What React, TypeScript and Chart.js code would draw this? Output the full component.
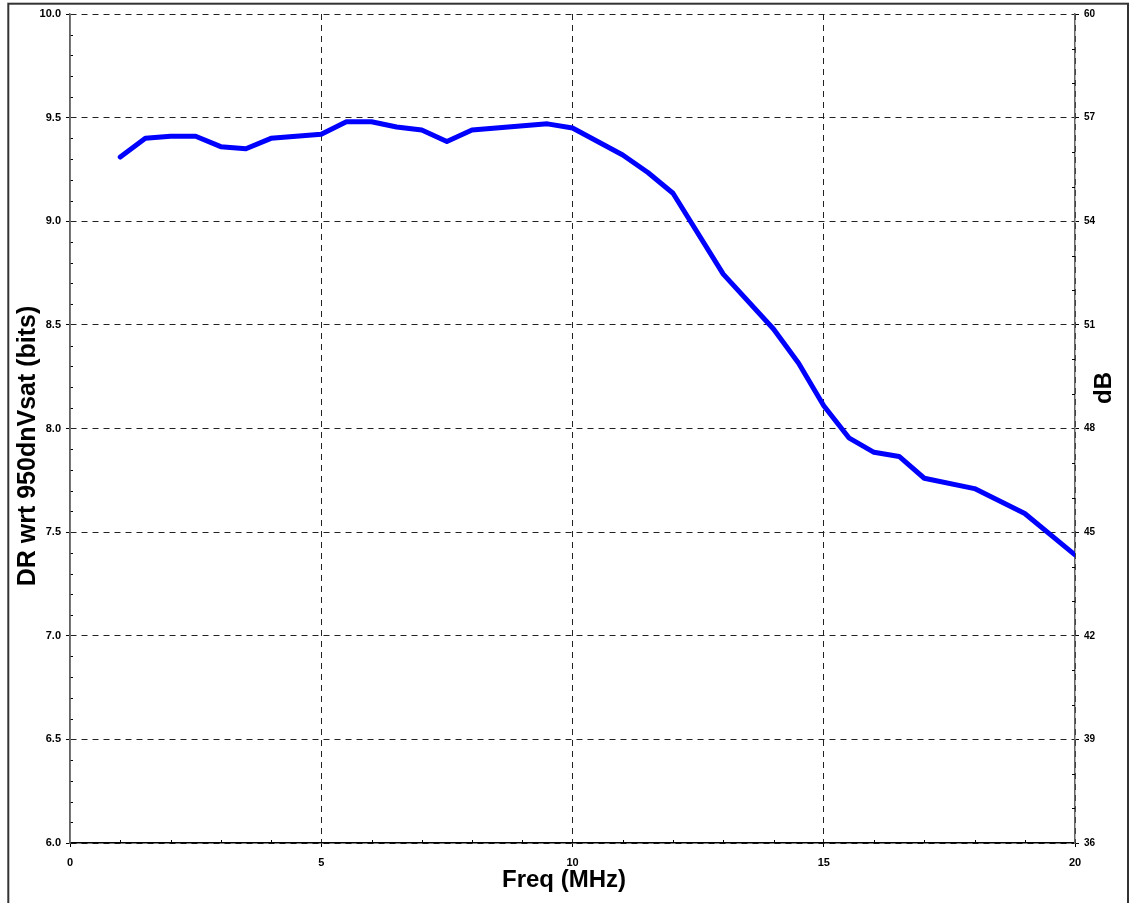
import React, { useEffect, useRef } from "react";
import { Chart, registerables } from "chart.js";

Chart.register(...registerables);

// Data
const freqMHz = [1, 1.5, 2, 2.5, 3, 3.5, 4, 5, 5.5, 6, 6.5, 7, 7.5, 8, 9.5, 10, 11, 11.5, 12, 13, 14, 14.5, 15, 15.5, 16, 16.5, 17, 18, 19, 20];
const drBits = [9.31, 9.4, 9.41, 9.41, 9.36, 9.35, 9.4, 9.42, 9.48, 9.48, 9.455, 9.44, 9.385, 9.44, 9.47, 9.45, 9.32, 9.235, 9.135, 8.745, 8.48, 8.315, 8.11, 7.955, 7.885, 7.865, 7.76, 7.71, 7.59, 7.39];

const xTitle = "Freq (MHz)";
const yTitle = "DR wrt 950dnVsat (bits)";
const y2Title = "dB";

const xRange = [0, 20];
const xStep = 5;
const xMinorStep = 1;
const yRange = [6, 10];
const yStep = 0.5;
const yMinorStep = 0.1;
const y2Range = [36, 60];
const y2Step = 3;
const y2MinorStep = 1;

const FONT = "'Liberation Sans', Arial, Helvetica, sans-serif";

const decorPlugin = {
  id: "decor",
  beforeDraw(chart: any) {
    const ctx = chart.ctx;
    ctx.save();
    ctx.strokeStyle = "#333";
    ctx.lineWidth = 2;
    ctx.strokeRect(8.3, 3.7, 1119.7, 1000);
    ctx.restore();
  },
  afterDraw(chart: any) {
    const ctx = chart.ctx;
    const { x, y, y2 } = chart.scales;
    const area = chart.chartArea;
    ctx.save();
    ctx.strokeStyle = "#000";
    ctx.lineWidth = 1;
    ctx.beginPath();
    // minor ticks, pointing into the plot
    for (let i = 0; i <= Math.round((xRange[1] - xRange[0]) / xMinorStep); i++) {
      const v = xRange[0] + i * xMinorStep;
      if (i % Math.round(xStep / xMinorStep) === 0) continue;
      const px = Math.round(x.getPixelForValue(v)) + 0.5;
      ctx.moveTo(px, area.bottom);
      ctx.lineTo(px, area.bottom - 3);
    }
    for (let i = 0; i <= Math.round((yRange[1] - yRange[0]) / yMinorStep); i++) {
      const v = yRange[0] + i * yMinorStep;
      if (i % Math.round(yStep / yMinorStep) === 0) continue;
      const py = Math.round(y.getPixelForValue(v)) + 0.5;
      ctx.moveTo(area.left, py);
      ctx.lineTo(area.left + 3, py);
    }
    for (let i = 0; i <= Math.round((y2Range[1] - y2Range[0]) / y2MinorStep); i++) {
      const v = y2Range[0] + i * y2MinorStep;
      if (i % Math.round(y2Step / y2MinorStep) === 0) continue;
      const py = Math.round(y2.getPixelForValue(v)) + 0.5;
      ctx.moveTo(area.right, py);
      ctx.lineTo(area.right - 3, py);
    }
    ctx.stroke();

    // left axis line drawn solid over everything
    ctx.strokeStyle = "#666";
    ctx.lineWidth = 1.5;
    ctx.beginPath();
    ctx.moveTo(area.left, area.top);
    ctx.lineTo(area.left, area.bottom);
    ctx.stroke();

    // axis titles
    ctx.fillStyle = "#000";
    ctx.textAlign = "center";
    ctx.textBaseline = "middle";
    ctx.font = `bold 24px ${FONT}`;
    ctx.fillText(xTitle, 564, 880);

    ctx.save();
    ctx.translate(28, 446);
    ctx.rotate(-Math.PI / 2);
    ctx.font = `bold 25px ${FONT}`;
    ctx.fillText(yTitle, 0, 0);
    ctx.restore();

    ctx.save();
    ctx.translate(1104, 388);
    ctx.rotate(-Math.PI / 2);
    ctx.font = `bold 24px ${FONT}`;
    ctx.fillText(y2Title, 0, 0);
    ctx.restore();

    ctx.restore();
  },
};

export default function App() {
  const ref = useRef<HTMLCanvasElement | null>(null);

  useEffect(() => {
    if (!ref.current) return;
    const tickFont = { family: FONT, size: 11, weight: "bold" as const };
    const chart = new Chart(ref.current, {
      type: "line",
      data: {
        datasets: [
          {
            data: freqMHz.map((f, i) => ({ x: f, y: drBits[i] })),
            borderColor: "#0000ff",
            borderWidth: 5,
            pointRadius: 0,
            tension: 0,
            fill: false,
            borderJoinStyle: "round",
            borderCapStyle: "round",
            yAxisID: "y",
          },
        ],
      },
      options: {
        responsive: false,
        animation: false,
        events: [],
        layout: { padding: { top: 14, left: 0, right: 0, bottom: 0 } },
        plugins: { legend: { display: false }, tooltip: { enabled: false } },
        scales: {
          x: {
            type: "linear",
            min: xRange[0],
            max: xRange[1],
            afterFit: (s: any) => {
              s.height = 60;
            },
            ticks: { stepSize: xStep, color: "#000", font: tickFont, padding: 9, maxRotation: 0, callback: (v: any) => String(v) },
            grid: {
              color: (c: any) => (c.tick && c.tick.value === xRange[0] ? "rgba(0,0,0,0)" : "#222"),
              tickColor: "#000",
              tickLength: 4,
              lineWidth: 1,
            },
            border: { display: true, color: "#000", width: 1.5, dash: [6, 5] },
          },
          y: {
            type: "linear",
            position: "left",
            min: yRange[0],
            max: yRange[1],
            afterFit: (s: any) => {
              s.width = 70;
            },
            ticks: { stepSize: yStep, color: "#000", font: tickFont, padding: 5, callback: (v: any) => Number(v).toFixed(1) },
            grid: { color: "#222", tickColor: "#000", tickLength: 4, lineWidth: 1 },
            border: { display: true, color: "#666", width: 1.5, dash: [6, 5] },
          },
          y2: {
            type: "linear",
            position: "right",
            min: y2Range[0],
            max: y2Range[1],
            afterFit: (s: any) => {
              s.width = 55;
            },
            ticks: { stepSize: y2Step, color: "#000", font: { family: FONT, size: 10, weight: "bold" }, padding: 5, callback: (v: any) => String(v) },
            grid: { drawOnChartArea: false, tickColor: "#000", tickLength: 4 },
            border: { display: true, color: "#666", width: 1.5 },
          },
        },
      },
      plugins: [decorPlugin],
    });
    return () => chart.destroy();
  }, []);

  return (
    <div style={{ position: "absolute", left: 0, top: 0, width: 1130, height: 903, overflow: "hidden", background: "#fff" }}>
      <canvas ref={ref} width={1130} height={903} style={{ display: "block", width: 1130, height: 903 }} />
    </div>
  );
}
